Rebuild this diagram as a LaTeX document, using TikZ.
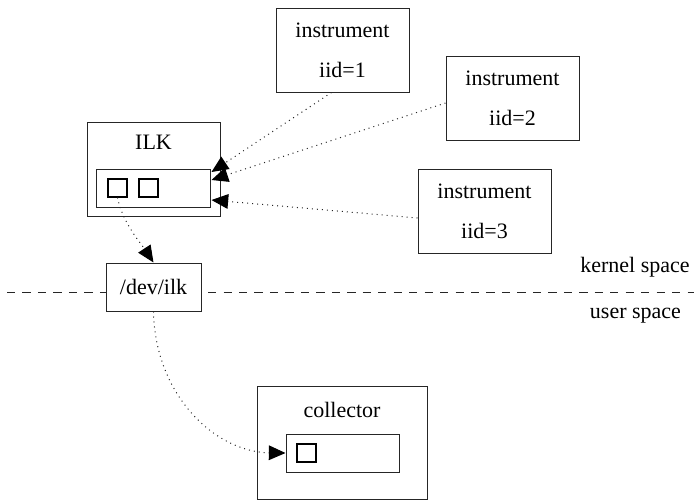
\documentclass[tikz,border=0pt]{standalone}
\usepackage{fontspec}
\setmainfont{Liberation Serif}
\usetikzlibrary{arrows.meta,calc}
\begin{document}
\begin{tikzpicture}[x=0.75pt,y=-0.75pt,
  font=\fontsize{16.5pt}{30pt}\selectfont,
  box/.style={draw=black!85, line width=0.75pt, inner sep=0pt, fill=white},
  sq/.style={draw=black, line width=1.5pt, inner sep=0pt, minimum width=14.25pt, minimum height=13.5pt},
  link/.style={black!85, line width=0.75pt, dash pattern=on 0.75pt off 3pt,
    -{Triangle[length=12.5pt,width=11pt,color=black]}},
  sepline/.style={black!85, line width=0.75pt, dash pattern=on 6.2pt off 5.4pt},
  txt/.style={inner sep=0pt}]
\useasboundingbox (0,0) rectangle (694,501);

% separator
\coordinate (sepl) at (7,292);
\coordinate (sepr) at (694,292);
\draw[sepline] (sepl) -- (sepr);
\node[txt] (kern) at (635,267.5) {kernel space};
\node[txt] (user) at (635.5,316) {user space};

% ILK
\node[box, minimum width=99.75pt, minimum height=70.5pt] (ilk) at (153.5,169) {};
\node[txt] (ilkt) at (153.5,142.5) {ILK};
\node[box, minimum width=85.5pt, minimum height=28.5pt] (ilkin) at (153,188) {};
\node[sq] (ilksq1) at (117.5,187.5) {};
\node[sq] (ilksq2) at (148,187.5) {};

% /dev/ilk
\node[box, minimum width=71.25pt, minimum height=36pt] (dev) at (153.5,287) {/dev/ilk};

% instruments
\node[box, align=center, minimum width=99.75pt, minimum height=63pt] (i1) at (342.5,50) {instrument\\iid=1};
\node[box, align=center, minimum width=99.75pt, minimum height=63pt] (i2) at (512.5,98) {instrument\\iid=2};
\node[box, align=center, minimum width=99.75pt, minimum height=63pt] (i3) at (484.5,211) {instrument\\iid=3};

% collector
\node[box, minimum width=127.5pt, minimum height=84.75pt] (col) at (342,442.5) {};
\node[txt] (colt) at (342,409.5) {collector};
\node[box, minimum width=84.75pt, minimum height=28.5pt] (colin) at (342.5,453) {};
\node[sq] (colsq) at (306.5,453) {};

% connectors
\draw[link] ($(i1.south)+(-11,0)$) -- ($(ilkin.east)+(1,-16)$);
\draw[link] ($(i2.west)+(0,5)$) -- ($(ilkin.east)+(1,-8)$);
\draw[link] ($(i3.west)+(0,7)$) -- ($(ilkin.east)+(1,12)$);
\draw[link] (ilksq1.south) .. controls (122,222) and (142,245) .. (dev.north);
\draw[link] (dev.south) .. controls (155,395) and (215,452) .. (colin.west);
\end{tikzpicture}
\end{document}
